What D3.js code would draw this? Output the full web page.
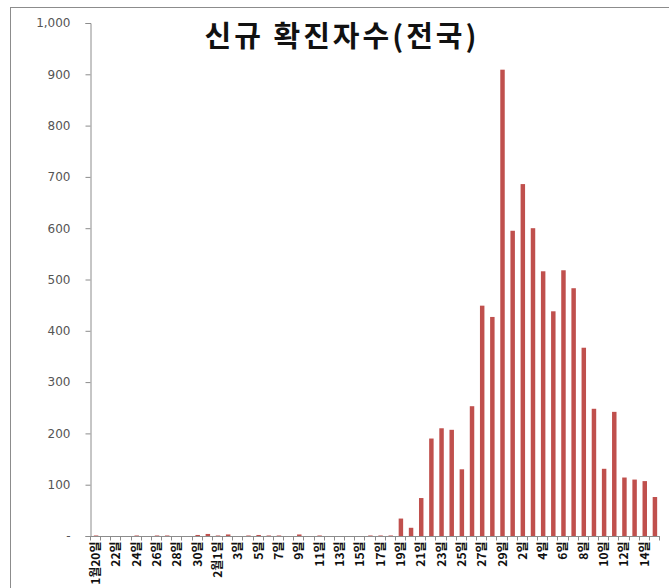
<!DOCTYPE html>
<html>
<head>
<meta charset="utf-8">
<script src="https://cdn.jsdelivr.net/npm/d3@7"></script>
<style>
  body { margin: 0; background: #fff; }
  svg { display: block; }
  .y-label { font-family: 'DejaVu Sans', sans-serif; font-size: 12px; fill: #555; }
  .x-label { font-family: 'Noto Sans CJK KR', sans-serif; font-size: 12px; font-weight: bold; fill: #111; }
  .title { font-family: 'Noto Sans CJK KR', sans-serif; font-size: 29px; font-weight: bold; fill: #111; letter-spacing: 3px; }
</style>
</head>
<body>
<div id="chart"></div>
<script>
// daily dates, 2020-01-20 .. 2020-03-15
const months = [1, 2, 3];
const dayCounts = [12, 29, 15];
const firstDays = [20, 1, 1];

// new confirmed cases per day
const cases = [
  1, 0, 0, 0, 1, 0, 1, 1, 0, 0, 2, 4,           // Jan 20-31
  1, 3, 0, 1, 2, 1, 1, 0, 3, 0, 1, 0, 0, 0, 0,  // Feb 1-15
  1, 1, 1, 34, 16, 74, 190, 210, 207, 130, 253, 449, 427, 909, // Feb 16-29
  595, 686, 600, 516, 438, 518, 483, 367, 248, 131, 242, 114, 110, 107, 76 // Mar 1-15
];

const yTicks = [0, 100, 200, 300, 400, 500, 600, 700, 800, 900, 1000];
const titleText = '신규 확진자수(전국)';

const width = 669;
const height = 588;
const margin = { top: 23, right: 9, bottom: 52, left: 91 };

const dates = [];
months.forEach((m, i) => {
  for (let d = firstDays[i]; d < firstDays[i] + dayCounts[i]; d++) {
    dates.push({ month: m, day: d });
  }
});

const data = dates.map((d, i) => ({ key: `${d.month}-${d.day}`, month: d.month, day: d.day, value: cases[i], index: i }));

const svg = d3.select('#chart')
  .append('svg')
  .attr('width', width)
  .attr('height', height);

// outer frame
svg.append('rect')
  .attr('x', 10.5)
  .attr('y', 7.5)
  .attr('width', width)
  .attr('height', height)
  .attr('fill', 'none')
  .attr('stroke', '#8c8c8c');

const x = d3.scaleBand()
  .domain(data.map(d => d.key))
  .range([margin.left, width - margin.right])
  .paddingInner(0.56)
  .paddingOuter(0.28);

const y = d3.scaleLinear()
  .domain([0, 1000])
  .range([height - margin.bottom, margin.top]);

svg.append('text')
  .attr('class', 'title')
  .attr('x', 342)
  .attr('y', 47)
  .attr('text-anchor', 'middle')
  .text(titleText);

svg.append('g')
  .selectAll('rect')
  .data(data)
  .enter()
  .append('rect')
  .attr('x', d => x(d.key))
  .attr('y', d => y(d.value))
  .attr('width', x.bandwidth())
  .attr('height', d => y(0) - y(d.value))
  .attr('fill', '#c0504d');

// y axis
const yAxis = svg.append('g')
  .attr('transform', `translate(${margin.left - 0.5},0)`)
  .call(d3.axisLeft(y).tickValues(yTicks).tickSize(5).tickPadding(15)
    .tickFormat(d => d === 0 ? '-' : d3.format(',')(d)));
yAxis.select('.domain').attr('stroke', '#8c8c8c');
yAxis.selectAll('.tick line').attr('stroke', '#8c8c8c');
yAxis.selectAll('.tick text').attr('class', 'y-label').attr('fill', null);

// x axis: tick marks between every category
const step = x.step();
const xStart = margin.left - 0.5;
const axisY = y(0) + 0.5;
const xg = svg.append('g');
xg.append('line')
  .attr('x1', xStart)
  .attr('x2', width - margin.right)
  .attr('y1', axisY)
  .attr('y2', axisY)
  .attr('stroke', '#8c8c8c');
xg.selectAll('.x-tick')
  .data(d3.range(0, data.length + 1))
  .enter()
  .append('line')
  .attr('x1', i => Math.round(margin.left + i * step) - 0.5)
  .attr('x2', i => Math.round(margin.left + i * step) - 0.5)
  .attr('y1', axisY)
  .attr('y2', axisY + 4)
  .attr('stroke', '#8c8c8c');

xg.selectAll('.x-label')
  .data(data.filter(d => d.index % 2 === 0))
  .enter()
  .append('text')
  .attr('class', 'x-label')
  .attr('text-anchor', 'end')
  .attr('transform', d => `translate(${x(d.key) + x.bandwidth() / 2 + 4},${axisY + 5}) rotate(-90)`)
  .text(d => (d.index === 0 || d.day === 1) ? `${d.month}월${d.day}일` : `${d.day}일`);
</script>
</body>
</html>
